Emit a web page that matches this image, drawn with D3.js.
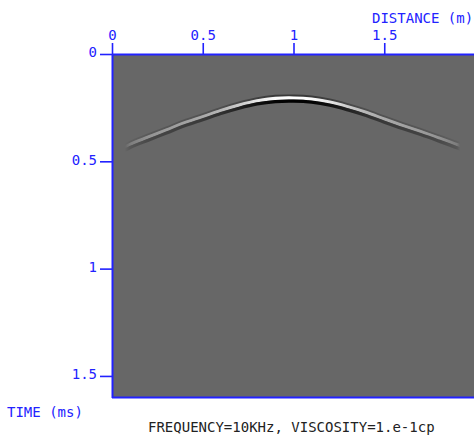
<!DOCTYPE html>
<html>
<head>
<meta charset="utf-8">
<script src="https://cdn.jsdelivr.net/npm/d3@7"></script>
<style>
  html, body { margin: 0; padding: 0; background: #fff; }
  svg { display: block; }
</style>
</head>
<body>
<div id="chart"></div>
<script>
// ---- data ----
const xTicks = [0, 0.5, 1, 1.5];
const xTickLabels = ["0", "0.5", "1", "1.5"];
const yTicks = [0, 0.5, 1, 1.5];
const yTickLabels = ["0", "0.5", "1", "1.5"];
const xDomain = [0, 2];        // distance (m)
const yDomain = [0, 1.6];      // time (ms)

// picked reflection (white peak) arrival times along the profile
const distances    = [0.072, 0.1, 0.2, 0.3, 0.4, 0.5, 0.6, 0.7, 0.8, 0.9, 1.0, 1.1, 1.2, 1.3, 1.4, 1.5, 1.6, 1.7, 1.8, 1.9, 1.917];
const arrivalTimes = [0.433, 0.421, 0.387, 0.354, 0.320, 0.292, 0.263, 0.238, 0.218, 0.207, 0.205, 0.210, 0.224, 0.246, 0.272, 0.303, 0.333, 0.361, 0.391, 0.422, 0.428];
const amplitudes   = [0.0, 0.15, 0.29, 0.35, 0.39, 0.44, 0.52, 0.66, 0.84, 0.97, 1.0, 0.97, 0.84, 0.66, 0.52, 0.44, 0.39, 0.35, 0.29, 0.15, 0.0];

// wavelet lobes relative to the picked peak (ms)
const lobeOffsets = [-0.0115, 0, 0.0145];
const lobeColors  = ["#000000", "#ffffff", "#000000"];

const xLabel = "DISTANCE (m)";
const yLabel = "TIME (ms)";
const caption = "FREQUENCY=10KHz, VISCOSITY=1.e-1cp";

// ---- layout ----
const W = 474, H = 437;
const mLeft = 112, mTop = 54, mRight = 475, mBottom = 397.4;
const blue = "#2222ff";
const font = "'DejaVu Sans Mono', 'Liberation Mono', monospace";

const x = d3.scaleLinear().domain(xDomain).range([mLeft, mRight]);
const y = d3.scaleLinear().domain(yDomain).range([mTop, mBottom]);

const svg = d3.select("#chart").append("svg")
  .attr("width", W).attr("height", H);

const defs = svg.append("defs");
defs.append("clipPath").attr("id", "plotClip")
  .append("rect").attr("x", mLeft).attr("y", mTop)
  .attr("width", W - mLeft).attr("height", mBottom - mTop);

defs.append("filter").attr("id", "soft")
  .attr("x", "-5%").attr("y", "-30%").attr("width", "110%").attr("height", "160%")
  .append("feGaussianBlur").attr("stdDeviation", 0.7);

const grad = defs.append("linearGradient").attr("id", "ampGrad")
  .attr("gradientUnits", "userSpaceOnUse")
  .attr("x1", mLeft).attr("x2", mRight).attr("y1", 0).attr("y2", 0);
distances.forEach((d, i) => {
  const g = Math.round(255 * amplitudes[i]);
  grad.append("stop")
    .attr("offset", (x(d) - mLeft) / (mRight - mLeft))
    .attr("stop-color", `rgb(${g},${g},${g})`);
});
defs.append("mask").attr("id", "ampMask")
  .attr("maskUnits", "userSpaceOnUse")
  .attr("x", 0).attr("y", 0).attr("width", W).attr("height", H)
  .append("rect").attr("x", 0).attr("y", 0).attr("width", W).attr("height", H)
  .attr("fill", "url(#ampGrad)");

// plot background
const plot = svg.append("g").attr("clip-path", "url(#plotClip)");
plot.append("rect")
  .attr("x", mLeft).attr("y", mTop)
  .attr("width", W - mLeft).attr("height", mBottom - mTop)
  .attr("fill", "#676767");

// reflection event
const pts = distances.map((d, i) => ({ d, t: arrivalTimes[i] }));
const event = plot.append("g").attr("mask", "url(#ampMask)")
  .append("g").attr("filter", "url(#soft)");
const lobeWidths = [2.2, 3.2, 3.2];
const lobeOpacity = [0.45, 1, 1];
lobeOffsets.forEach((off, k) => {
  const line = d3.line()
    .x(p => x(p.d))
    .y(p => y(p.t + off))
    .curve(d3.curveCatmullRom);
  event.append("path")
    .attr("d", line(pts))
    .attr("fill", "none")
    .attr("stroke", lobeColors[k])
    .attr("stroke-width", lobeWidths[k])
    .attr("stroke-opacity", lobeOpacity[k])
    .attr("stroke-linecap", "round");
});

// axes
const xAxis = d3.axisTop(x)
  .tickValues(xTicks)
  .tickFormat((d, i) => xTickLabels[i])
  .tickSize(11).tickSizeOuter(0).tickPadding(3);
const gx = svg.append("g").attr("transform", `translate(0,${mTop})`).call(xAxis);

const yAxis = d3.axisLeft(y)
  .tickValues(yTicks)
  .tickFormat((d, i) => yTickLabels[i])
  .tickSize(12).tickSizeOuter(0).tickPadding(3);
const gy = svg.append("g").attr("transform", `translate(${mLeft},0)`).call(yAxis);

[gx, gy].forEach(g => {
  g.select(".domain").attr("stroke", blue).attr("stroke-width", 2);
  g.selectAll(".tick line").attr("stroke", blue).attr("stroke-width", 1.6);
  g.selectAll(".tick text")
    .attr("fill", blue)
    .style("font-family", font)
    .style("font-size", "14px");
});
gy.selectAll(".tick text").attr("dy", "0.2em");

// bottom frame line
svg.append("line")
  .attr("x1", mLeft).attr("x2", W)
  .attr("y1", mBottom).attr("y2", mBottom)
  .attr("stroke", blue).attr("stroke-width", 2);

// labels
svg.append("text")
  .attr("x", 372).attr("y", 23)
  .attr("fill", blue)
  .style("font-family", font).style("font-size", "14px")
  .text(xLabel);

svg.append("text")
  .attr("x", 7).attr("y", 417)
  .attr("fill", blue)
  .style("font-family", font).style("font-size", "14px")
  .text(yLabel);

svg.append("text")
  .attr("x", 148).attr("y", 432)
  .attr("fill", "#222")
  .style("font-family", font).style("font-size", "14px")
  .text(caption);
</script>
</body>
</html>
